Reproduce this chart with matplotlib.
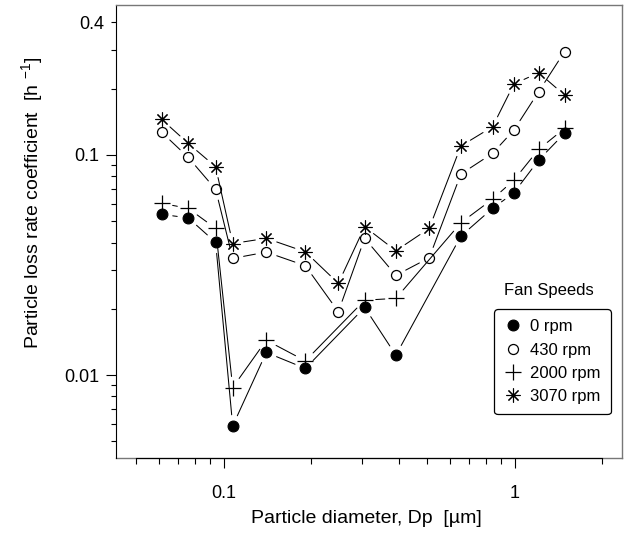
import numpy as np
import matplotlib.pyplot as plt
from matplotlib.lines import Line2D
from matplotlib.ticker import FixedLocator, FuncFormatter, NullFormatter

plt.rcParams['font.family'] = ['Liberation Sans', 'DejaVu Sans']
plt.rcParams['mathtext.fontset'] = 'custom'
plt.rcParams['mathtext.rm'] = 'Liberation Sans'
plt.rcParams['mathtext.it'] = 'Liberation Sans'

# --- data ---
diam = [0.0613, 0.0756, 0.0939, 0.1075, 0.1402, 0.191, 0.248, 0.3054,
        0.391, 0.509, 0.654, 0.840, 0.995, 1.21, 1.485]
nan = np.nan
rpm0 = [0.0537, 0.0518, 0.0401, 0.00588, 0.01267, 0.01072, nan, 0.0203,
        0.01231, nan, 0.0428, 0.0572, 0.0673, 0.0948, 0.1254]
rpm430 = [0.1267, 0.0975, 0.0698, 0.0339, 0.0362, 0.0314, 0.0194, 0.0418,
          0.0284, 0.0341, 0.0819, 0.1017, 0.1298, 0.1938, 0.2945]
rpm2000 = [0.0603, 0.0572, 0.0464, 0.00878, 0.0144, 0.0116, nan, 0.0219,
           0.0223, nan, 0.0492, 0.063, 0.0769, 0.106, 0.132]
rpm3070 = [0.145, 0.1129, 0.0884, 0.0396, 0.0418, 0.0363, 0.0261, 0.0472,
           0.0367, 0.0464, 0.1098, 0.1343, 0.21, 0.2364, 0.1872]
labels = ['0 rpm', '430 rpm', '2000 rpm', '3070 rpm']

star = (8, 2, 0)
styles = [
    dict(marker='o', ms=7.8, mfc='black', mec='black', mew=0.8),
    dict(marker='o', ms=7.2, mfc='white', mec='black', mew=0.9),
    dict(marker='+', ms=11, mfc='none', mec='black', mew=0.9),
    dict(marker=star, ms=10, mfc='none', mec='black', mew=0.8),
]

fig = plt.figure(figsize=(6.33, 5.33), dpi=100)
ax = fig.add_axes([0.1833, 0.1407, 0.7993, 0.8499])
ax.set_xscale('log')
ax.set_yscale('log')
ax.set_xlim(0.0427, 2.34)
ax.set_ylim(0.0042, 0.48)

for vals, st in zip([rpm0, rpm430, rpm2000, rpm3070], styles):
    x = np.array(diam)
    y = np.array(vals)
    ok = ~np.isnan(y)
    x, y = x[ok], y[ok]
    # connecting segments stop short of the markers
    for i in range(len(x) - 1):
        ax.annotate('', xy=(x[i + 1], y[i + 1]), xytext=(x[i], y[i]),
                    arrowprops=dict(arrowstyle='-', color='black', lw=0.75,
                                    shrinkA=8, shrinkB=8))
    ax.plot(x, y, linestyle='none', zorder=3, **st)

# ticks
ax.xaxis.set_major_locator(FixedLocator([0.1, 1]))
ax.xaxis.set_minor_locator(FixedLocator([0.05, 0.06, 0.07, 0.08, 0.09,
                                         0.2, 0.3, 0.4, 0.5, 0.6, 0.7, 0.8, 0.9, 2]))
ax.xaxis.set_major_formatter(FuncFormatter(lambda v, p: f'{v:g}'))
ax.xaxis.set_minor_formatter(NullFormatter())

ax.yaxis.set_major_locator(FixedLocator([0.01, 0.1]))
ax.yaxis.set_minor_locator(FixedLocator([0.005, 0.006, 0.007, 0.008, 0.009,
                                         0.02, 0.03, 0.04, 0.05, 0.06, 0.07, 0.08, 0.09,
                                         0.2, 0.3, 0.4]))
ax.yaxis.set_major_formatter(FuncFormatter(lambda v, p: f'{v:g}'))
ax.yaxis.set_minor_formatter(FuncFormatter(lambda v, p: '0.4' if abs(v - 0.4) < 1e-9 else ''))

ax.tick_params(axis='x', which='major', direction='out', length=7.5, width=0.8,
               pad=12, labelsize=13)
ax.tick_params(axis='x', which='minor', direction='out', length=4, width=0.8)
ax.tick_params(axis='y', which='major', direction='out', length=7.2, width=0.8,
               pad=5, labelsize=13)
ax.tick_params(axis='y', which='minor', direction='out', length=3.8, width=0.8,
               pad=5, labelsize=13)

for s in ['top', 'right']:
    ax.spines[s].set_color('#777777')
    ax.spines[s].set_linewidth(1.0)
ax.spines['left'].set_color('black')
ax.spines['bottom'].set_color('black')
ax.spines['bottom'].set_bounds(0.05, 2)
ax.axhline(0.0042, color='#777777', lw=1.0, clip_on=False, zorder=0)

ax.set_xlabel('Particle diameter, Dp  [µm]', fontsize=14)
ax.set_ylabel('Particle loss rate coefficient  [h $^{-1}$]', fontsize=14)
ax.xaxis.set_label_coords(0.495, -0.115)
ax.yaxis.set_label_coords(-0.141, 0.562)

# legend with title above the box
handles = [Line2D([], [], linestyle='none', **st) for st in styles]
leg = ax.legend(handles, labels, loc='upper right', bbox_to_anchor=(0.9777, 0.3283),
                borderaxespad=0, fontsize=12, frameon=True, fancybox=True,
                edgecolor='black', handlelength=1.0, handletextpad=0.55,
                labelspacing=0.5, borderpad=0.6)
leg.get_frame().set_linewidth(0.9)
leg.get_frame().set_alpha(1)
ax.text(0.8563, 0.3693, 'Fan Speeds', transform=ax.transAxes, fontsize=12,
        ha='center', va='center')

fig.savefig('out.png', dpi=100)
